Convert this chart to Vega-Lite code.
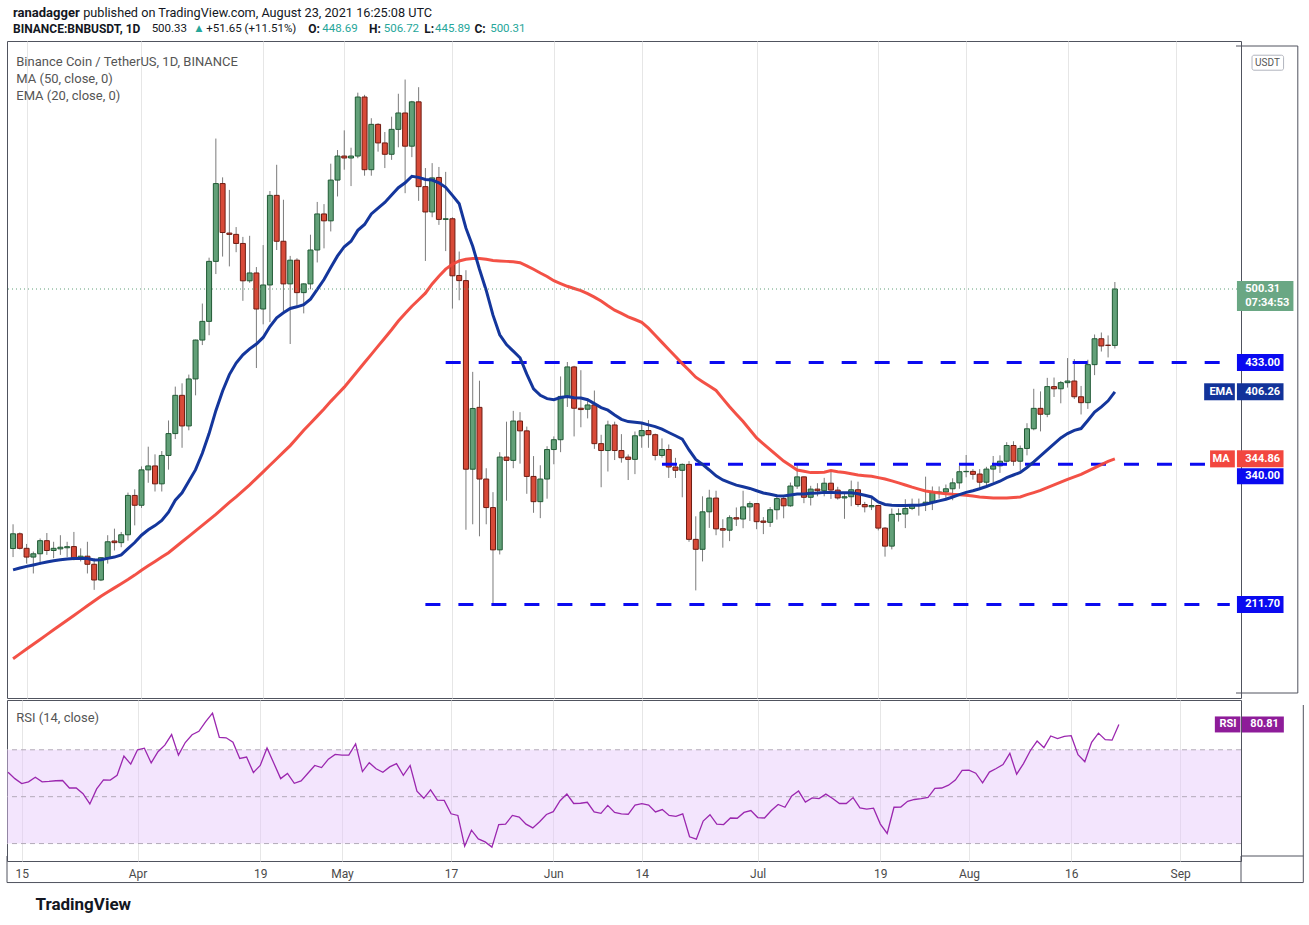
{
  "$schema": "https://vega.github.io/schema/vega-lite/v6.json",
  "background": "white",
  "padding": {"left": 6, "top": 6, "right": 0, "bottom": 0},
  "datasets": {
    "bnb": [
      {"d":"2021-03-13","o":262.8,"h":285,"l":255,"c":276.3,"ma":162,"ema":243.3,"rsi":60.4},
      {"d":"2021-03-14","o":276.3,"h":277.5,"l":262,"c":263,"ma":166.4,"ema":245,"rsi":57.7},
      {"d":"2021-03-15","o":263,"h":267,"l":249,"c":255,"ma":170.8,"ema":246.5,"rsi":55.6},
      {"d":"2021-03-16","o":255,"h":260,"l":240,"c":258,"ma":175.2,"ema":247.8,"rsi":56.3},
      {"d":"2021-03-17","o":258,"h":272,"l":248,"c":270,"ma":179.6,"ema":249.2,"rsi":58.3},
      {"d":"2021-03-18","o":270,"h":277,"l":257,"c":261,"ma":184,"ema":250.5,"rsi":56.3},
      {"d":"2021-03-19","o":261,"h":269,"l":254,"c":263,"ma":188.4,"ema":251.6,"rsi":56.5},
      {"d":"2021-03-20","o":262.5,"h":275,"l":257,"c":264,"ma":192.8,"ema":252.5,"rsi":56.8},
      {"d":"2021-03-21","o":263.5,"h":269,"l":255,"c":264.5,"ma":197.2,"ema":253.3,"rsi":56.9},
      {"d":"2021-03-22","o":264.6,"h":278,"l":252,"c":254.4,"ma":201.6,"ema":253.6,"rsi":53.7},
      {"d":"2021-03-23","o":254.2,"h":263,"l":251,"c":255.8,"ma":206,"ema":253.8,"rsi":53.7},
      {"d":"2021-03-24","o":255.8,"h":269,"l":240,"c":248.4,"ma":210.4,"ema":253.6,"rsi":51.3},
      {"d":"2021-03-25","o":248.4,"h":254,"l":225,"c":234,"ma":214.8,"ema":252.3,"rsi":46.9},
      {"d":"2021-03-26","o":234,"h":255,"l":233,"c":254.4,"ma":219.2,"ema":252.5,"rsi":53.3},
      {"d":"2021-03-27","o":254.4,"h":275,"l":249,"c":269,"ma":223,"ema":253.8,"rsi":57.2},
      {"d":"2021-03-28","o":269.7,"h":281,"l":261,"c":268.2,"ma":226.8,"ema":255,"rsi":57.1},
      {"d":"2021-03-29","o":268.2,"h":278,"l":264,"c":275.4,"ma":230.6,"ema":257,"rsi":59.1},
      {"d":"2021-03-30","o":275.4,"h":314,"l":270,"c":311.4,"ma":234.4,"ema":262.8,"rsi":67.3},
      {"d":"2021-03-31","o":311.4,"h":317,"l":284,"c":302.4,"ma":238.5,"ema":268.3,"rsi":63.9},
      {"d":"2021-04-01","o":302.4,"h":338,"l":300,"c":334.8,"ma":243,"ema":275,"rsi":70},
      {"d":"2021-04-02","o":334.8,"h":356,"l":323,"c":338.4,"ma":247,"ema":280,"rsi":70.7},
      {"d":"2021-04-03","o":338.4,"h":349,"l":315,"c":322,"ma":251,"ema":283.8,"rsi":64.4},
      {"d":"2021-04-04","o":322,"h":352,"l":315,"c":348,"ma":255,"ema":288.5,"rsi":69.2},
      {"d":"2021-04-05","o":348,"h":380,"l":335,"c":368,"ma":259,"ema":296,"rsi":72},
      {"d":"2021-04-06","o":368,"h":411,"l":363,"c":403,"ma":264,"ema":307,"rsi":76.5},
      {"d":"2021-04-07","o":403,"h":414,"l":355,"c":375,"ma":269,"ema":313.8,"rsi":67.7},
      {"d":"2021-04-08","o":375,"h":422,"l":371,"c":418,"ma":274,"ema":324.3,"rsi":73.1},
      {"d":"2021-04-09","o":418,"h":454,"l":403,"c":453.6,"ma":279,"ema":335,"rsi":76.4},
      {"d":"2021-04-10","o":453.6,"h":487,"l":449,"c":470.7,"ma":284,"ema":350,"rsi":77.9},
      {"d":"2021-04-11","o":470.7,"h":529,"l":458,"c":525.6,"ma":289,"ema":368,"rsi":82},
      {"d":"2021-04-12","o":525.6,"h":638,"l":514,"c":596.8,"ma":294,"ema":389,"rsi":85.6},
      {"d":"2021-04-13","o":596.8,"h":602.5,"l":530,"c":552,"ma":299.5,"ema":407,"rsi":75.3},
      {"d":"2021-04-14","o":551.5,"h":591,"l":521,"c":550.3,"ma":305,"ema":422,"rsi":75.1},
      {"d":"2021-04-15","o":550.3,"h":557,"l":534,"c":542,"ma":310,"ema":432.5,"rsi":73.2},
      {"d":"2021-04-16","o":542,"h":548,"l":489.5,"c":507.8,"ma":315.5,"ema":440,"rsi":66.3},
      {"d":"2021-04-17","o":507.8,"h":549,"l":506,"c":515,"ma":321,"ema":445.5,"rsi":66.9},
      {"d":"2021-04-18","o":515,"h":520.4,"l":428,"c":482,"ma":327,"ema":450,"rsi":60.3},
      {"d":"2021-04-19","o":482,"h":540.5,"l":468,"c":504,"ma":333,"ema":456,"rsi":63.3},
      {"d":"2021-04-20","o":504,"h":590,"l":470,"c":586,"ma":339,"ema":466,"rsi":70.8},
      {"d":"2021-04-21","o":586,"h":614,"l":536,"c":544,"ma":345,"ema":474,"rsi":64.3},
      {"d":"2021-04-22","o":544,"h":582,"l":480,"c":505,"ma":351,"ema":478.5,"rsi":57.7},
      {"d":"2021-04-23","o":505,"h":530.6,"l":450,"c":526.7,"ma":357,"ema":482.5,"rsi":59.9},
      {"d":"2021-04-24","o":526.7,"h":528.5,"l":483.5,"c":497,"ma":364,"ema":484,"rsi":55.7},
      {"d":"2021-04-25","o":497,"h":505.5,"l":478,"c":505,"ma":371,"ema":486,"rsi":56.7},
      {"d":"2021-04-26","o":505,"h":550,"l":500,"c":536,"ma":377.5,"ema":491,"rsi":60},
      {"d":"2021-04-27","o":536,"h":580,"l":524.6,"c":569,"ma":384,"ema":500,"rsi":63.3},
      {"d":"2021-04-28","o":569,"h":578,"l":537.5,"c":562.7,"ma":390.5,"ema":509,"rsi":62.4},
      {"d":"2021-04-29","o":562.7,"h":615,"l":553,"c":600,"ma":397.5,"ema":520,"rsi":66},
      {"d":"2021-04-30","o":600,"h":627.5,"l":585,"c":622,"ma":404,"ema":530.6,"rsi":68},
      {"d":"2021-05-01","o":622,"h":645.5,"l":609.5,"c":620.2,"ma":410.5,"ema":539,"rsi":67.7},
      {"d":"2021-05-02","o":620.2,"h":629.6,"l":594.5,"c":622,"ma":418,"ema":544,"rsi":67.7},
      {"d":"2021-05-03","o":622,"h":680,"l":620,"c":676,"ma":425.5,"ema":554,"rsi":72.5},
      {"d":"2021-05-04","o":676,"h":678,"l":604,"c":609.5,"ma":433,"ema":559.4,"rsi":60.7},
      {"d":"2021-05-05","o":609.5,"h":656.6,"l":604,"c":651,"ma":440.5,"ema":569,"rsi":64.5},
      {"d":"2021-05-06","o":651,"h":652,"l":626,"c":634,"ma":448,"ema":574.4,"rsi":61.9},
      {"d":"2021-05-07","o":634,"h":644,"l":611,"c":623.6,"ma":455.5,"ema":579.5,"rsi":60.4},
      {"d":"2021-05-08","o":623.6,"h":658,"l":618.5,"c":646.4,"ma":463,"ema":586.4,"rsi":62.7},
      {"d":"2021-05-09","o":646.4,"h":679,"l":630,"c":661.4,"ma":471,"ema":593,"rsi":64.1},
      {"d":"2021-05-10","o":661.4,"h":692,"l":588,"c":631,"ma":478,"ema":597.5,"rsi":59.1},
      {"d":"2021-05-11","o":631,"h":672.5,"l":621,"c":671.6,"ma":484.5,"ema":603.5,"rsi":63.3},
      {"d":"2021-05-12","o":671.6,"h":685,"l":581,"c":594,"ma":490.5,"ema":602.5,"rsi":52.3},
      {"d":"2021-05-13","o":594,"h":611,"l":526,"c":570.8,"ma":496.5,"ema":600.5,"rsi":49.3},
      {"d":"2021-05-14","o":570.8,"h":615.5,"l":566,"c":602,"ma":505,"ema":600,"rsi":52.9},
      {"d":"2021-05-15","o":602.4,"h":612,"l":559,"c":564,"ma":512,"ema":597.5,"rsi":48.5},
      {"d":"2021-05-16","o":564,"h":607.5,"l":535,"c":564.6,"ma":518.5,"ema":593.4,"rsi":48.4},
      {"d":"2021-05-17","o":564.6,"h":566,"l":482.4,"c":512.4,"ma":523,"ema":586,"rsi":42.7},
      {"d":"2021-05-18","o":512.7,"h":534.6,"l":490,"c":508,"ma":526,"ema":578.4,"rsi":42},
      {"d":"2021-05-19","o":508,"h":517.5,"l":280,"c":335.4,"ma":527.5,"ema":556,"rsi":28.9},
      {"d":"2021-05-20","o":335.4,"h":424.5,"l":285,"c":391,"ma":528.3,"ema":539.4,"rsi":35.7},
      {"d":"2021-05-21","o":392,"h":416.4,"l":274,"c":326.4,"ma":528.3,"ema":518.4,"rsi":32},
      {"d":"2021-05-22","o":326.4,"h":336.3,"l":285,"c":300.3,"ma":527.5,"ema":499,"rsi":30.7},
      {"d":"2021-05-23","o":300.3,"h":314.4,"l":211.7,"c":261.6,"ma":526.5,"ema":476.4,"rsi":28.5},
      {"d":"2021-05-24","o":261.6,"h":351,"l":257.4,"c":346.5,"ma":526,"ema":458.4,"rsi":38.1},
      {"d":"2021-05-25","o":346.5,"h":378.9,"l":306.6,"c":343.5,"ma":525.6,"ema":449.4,"rsi":38.3},
      {"d":"2021-05-26","o":343.5,"h":388.8,"l":336.3,"c":379.5,"ma":525.3,"ema":443.4,"rsi":42},
      {"d":"2021-05-27","o":379.5,"h":387.6,"l":340.5,"c":370.5,"ma":524.4,"ema":437.4,"rsi":41.3},
      {"d":"2021-05-28","o":370.5,"h":374.4,"l":312.9,"c":328.8,"ma":521.5,"ema":422.4,"rsi":38.3},
      {"d":"2021-05-29","o":328.8,"h":347.4,"l":295.5,"c":305.7,"ma":518.4,"ema":409,"rsi":36.7},
      {"d":"2021-05-30","o":305.7,"h":339,"l":290.6,"c":326.4,"ma":515,"ema":403,"rsi":39.3},
      {"d":"2021-05-31","o":326.4,"h":356.4,"l":308.4,"c":353.4,"ma":511.8,"ema":400,"rsi":42.4},
      {"d":"2021-06-01","o":353.4,"h":365.4,"l":339.9,"c":362.4,"ma":507.9,"ema":399,"rsi":43.6},
      {"d":"2021-06-02","o":362.4,"h":420.3,"l":351,"c":402,"ma":505.3,"ema":401,"rsi":48.3},
      {"d":"2021-06-03","o":402,"h":433.5,"l":392.4,"c":429,"ma":502.8,"ema":402,"rsi":51.1},
      {"d":"2021-06-04","o":429,"h":430,"l":365.4,"c":391.2,"ma":500.8,"ema":400.8,"rsi":47.1},
      {"d":"2021-06-05","o":391.2,"h":426,"l":373.8,"c":390,"ma":498.9,"ema":400.5,"rsi":47.2},
      {"d":"2021-06-06","o":390.3,"h":400.5,"l":381.9,"c":394.2,"ma":496,"ema":399,"rsi":47.6},
      {"d":"2021-06-07","o":394.2,"h":407.4,"l":354,"c":358.8,"ma":492.9,"ema":395.4,"rsi":43.5},
      {"d":"2021-06-08","o":358.8,"h":366.9,"l":318.9,"c":352.5,"ma":489.3,"ema":391.8,"rsi":42.9},
      {"d":"2021-06-09","o":352.5,"h":379.8,"l":333.3,"c":375.9,"ma":485,"ema":389.4,"rsi":46.3},
      {"d":"2021-06-10","o":375.9,"h":378.9,"l":343.8,"c":352.5,"ma":480.9,"ema":385,"rsi":43.3},
      {"d":"2021-06-11","o":352.5,"h":367.5,"l":341.4,"c":345.9,"ma":478,"ema":381,"rsi":42.7},
      {"d":"2021-06-12","o":346.5,"h":348.9,"l":325.5,"c":344.4,"ma":474.9,"ema":379,"rsi":42.5},
      {"d":"2021-06-13","o":344.4,"h":369.9,"l":330.9,"c":366,"ma":472.4,"ema":378.3,"rsi":46.4},
      {"d":"2021-06-14","o":366,"h":377.4,"l":355,"c":370.8,"ma":469.8,"ema":377.6,"rsi":47},
      {"d":"2021-06-15","o":370.8,"h":380.4,"l":355,"c":367,"ma":464.5,"ema":376,"rsi":46.4},
      {"d":"2021-06-16","o":367,"h":368,"l":343.5,"c":348,"ma":458,"ema":374.4,"rsi":43.5},
      {"d":"2021-06-17","o":348,"h":363.6,"l":346,"c":353.4,"ma":451.5,"ema":372,"rsi":44.5},
      {"d":"2021-06-18","o":353.4,"h":358,"l":327.4,"c":337.4,"ma":445,"ema":369,"rsi":42},
      {"d":"2021-06-19","o":337.4,"h":345.8,"l":327.4,"c":334.4,"ma":438.5,"ema":366,"rsi":41.6},
      {"d":"2021-06-20","o":334.4,"h":340.7,"l":309.7,"c":339.8,"ma":432,"ema":363,"rsi":42.7},
      {"d":"2021-06-21","o":339.8,"h":342.8,"l":269,"c":271.2,"ma":426,"ema":353,"rsi":32.9},
      {"d":"2021-06-22","o":271.2,"h":292.3,"l":224.5,"c":262.1,"ma":419.6,"ema":344.3,"rsi":31.9},
      {"d":"2021-06-23","o":262.1,"h":310.6,"l":251,"c":296.4,"ma":415.5,"ema":339.8,"rsi":39.6},
      {"d":"2021-06-24","o":296.4,"h":316.6,"l":281.7,"c":309,"ma":411.5,"ema":334.7,"rsi":42.3},
      {"d":"2021-06-25","o":309,"h":315.7,"l":275,"c":280.8,"ma":407.5,"ema":329.3,"rsi":38.3},
      {"d":"2021-06-26","o":281,"h":289.6,"l":263.6,"c":279.6,"ma":400,"ema":325.6,"rsi":38.1},
      {"d":"2021-06-27","o":279.6,"h":293.2,"l":269.6,"c":291,"ma":392.5,"ema":323.2,"rsi":40.9},
      {"d":"2021-06-28","o":291,"h":300.4,"l":283.4,"c":289.8,"ma":385.7,"ema":320.8,"rsi":40.8},
      {"d":"2021-06-29","o":289.8,"h":315.7,"l":281.4,"c":300.9,"ma":379,"ema":319.3,"rsi":43.3},
      {"d":"2021-06-30","o":300.9,"h":306,"l":288,"c":303.9,"ma":371.5,"ema":317.8,"rsi":44.1},
      {"d":"2021-07-01","o":303.9,"h":304.5,"l":280.5,"c":287.4,"ma":364,"ema":315.7,"rsi":41.1},
      {"d":"2021-07-02","o":288,"h":291.6,"l":276,"c":286.8,"ma":358.6,"ema":313.6,"rsi":40.9},
      {"d":"2021-07-03","o":286.8,"h":300.7,"l":282.6,"c":298.3,"ma":353.3,"ema":312.4,"rsi":44.1},
      {"d":"2021-07-04","o":298.3,"h":312.4,"l":289.3,"c":308.5,"ma":348,"ema":311.2,"rsi":46.7},
      {"d":"2021-07-05","o":308.5,"h":309.7,"l":290.5,"c":301.9,"ma":342.8,"ema":310.9,"rsi":45.5},
      {"d":"2021-07-06","o":301.9,"h":323.2,"l":301,"c":320,"ma":338.7,"ema":311.8,"rsi":50.3},
      {"d":"2021-07-07","o":320,"h":339.8,"l":317.4,"c":328.4,"ma":334.7,"ema":312.7,"rsi":52.4},
      {"d":"2021-07-08","o":328.4,"h":328.7,"l":304.3,"c":309.7,"ma":333.5,"ema":312.7,"rsi":47.7},
      {"d":"2021-07-09","o":309.7,"h":320.2,"l":302.2,"c":317.2,"ma":332.3,"ema":313.3,"rsi":49.5},
      {"d":"2021-07-10","o":317.2,"h":322.6,"l":310.6,"c":315.7,"ma":332.3,"ema":313.6,"rsi":49.2},
      {"d":"2021-07-11","o":315.7,"h":327.5,"l":310.6,"c":322.6,"ma":332.6,"ema":314.2,"rsi":51.1},
      {"d":"2021-07-12","o":322.6,"h":334.7,"l":308.2,"c":316.3,"ma":334.1,"ema":314.2,"rsi":49.2},
      {"d":"2021-07-13","o":316.3,"h":319.3,"l":307.6,"c":309.1,"ma":333.1,"ema":313.8,"rsi":47.1},
      {"d":"2021-07-14","o":309.1,"h":314.5,"l":290,"c":310.2,"ma":332.3,"ema":313.8,"rsi":47.1},
      {"d":"2021-07-15","o":310.2,"h":325,"l":301.6,"c":316.6,"ma":331.2,"ema":313.9,"rsi":49.6},
      {"d":"2021-07-16","o":316.6,"h":324,"l":301,"c":303.1,"ma":330.1,"ema":313,"rsi":45.2},
      {"d":"2021-07-17","o":303.1,"h":305.5,"l":295.9,"c":301,"ma":329.5,"ema":311.5,"rsi":44.7},
      {"d":"2021-07-18","o":301,"h":308.5,"l":298,"c":302.2,"ma":328.9,"ema":310,"rsi":45.1},
      {"d":"2021-07-19","o":302.2,"h":302.5,"l":279.4,"c":281.5,"ma":327.7,"ema":305.5,"rsi":38.3},
      {"d":"2021-07-20","o":281.5,"h":282.4,"l":255.4,"c":265,"ma":326.5,"ema":303.1,"rsi":34.3},
      {"d":"2021-07-21","o":265,"h":299.5,"l":262,"c":294.1,"ma":324.7,"ema":302.5,"rsi":45.5},
      {"d":"2021-07-22","o":294.1,"h":299.5,"l":287.5,"c":294.7,"ma":322.9,"ema":302.2,"rsi":45.6},
      {"d":"2021-07-23","o":294.4,"h":307.9,"l":281.5,"c":299.5,"ma":321,"ema":302.2,"rsi":48},
      {"d":"2021-07-24","o":299.5,"h":308.5,"l":298,"c":302.2,"ma":319,"ema":302.5,"rsi":48.8},
      {"d":"2021-07-25","o":302.2,"h":308.5,"l":292.9,"c":303.1,"ma":317.2,"ema":302.5,"rsi":49.2},
      {"d":"2021-07-26","o":303.1,"h":328.6,"l":297.1,"c":305.2,"ma":315.4,"ema":303.4,"rsi":49.7},
      {"d":"2021-07-27","o":305.2,"h":319.6,"l":298,"c":314.2,"ma":314.5,"ema":304.9,"rsi":53.5},
      {"d":"2021-07-28","o":314.2,"h":319.6,"l":308.5,"c":314.5,"ma":313.6,"ema":306.4,"rsi":53.7},
      {"d":"2021-07-29","o":314.5,"h":321.4,"l":309.1,"c":317.5,"ma":313,"ema":307.9,"rsi":54.9},
      {"d":"2021-07-30","o":317.5,"h":327.1,"l":307,"c":322.9,"ma":312.4,"ema":310,"rsi":57.1},
      {"d":"2021-07-31","o":322.9,"h":338.5,"l":317.5,"c":333.1,"ma":312,"ema":312.1,"rsi":61.2},
      {"d":"2021-08-01","o":333.1,"h":348.4,"l":328,"c":333.4,"ma":311.5,"ema":314.2,"rsi":61.3},
      {"d":"2021-08-02","o":333.4,"h":335.5,"l":325.9,"c":330.7,"ma":310.8,"ema":315.7,"rsi":60},
      {"d":"2021-08-03","o":331,"h":335.5,"l":317.5,"c":323.5,"ma":310,"ema":317.5,"rsi":55.9},
      {"d":"2021-08-04","o":323.5,"h":337.6,"l":320,"c":335.5,"ma":309.5,"ema":319.6,"rsi":60.5},
      {"d":"2021-08-05","o":335.5,"h":347.5,"l":323.5,"c":338.5,"ma":309.1,"ema":322,"rsi":62},
      {"d":"2021-08-06","o":338.5,"h":348.1,"l":332,"c":342.7,"ma":309.1,"ema":324.4,"rsi":63.7},
      {"d":"2021-08-07","o":342.7,"h":360.1,"l":341.5,"c":357.1,"ma":309.1,"ema":327.7,"rsi":68.5},
      {"d":"2021-08-08","o":357.1,"h":361,"l":338.5,"c":342.7,"ma":309.5,"ema":330.1,"rsi":59.6},
      {"d":"2021-08-09","o":342.7,"h":357.1,"l":334,"c":354.4,"ma":310,"ema":332.5,"rsi":64.1},
      {"d":"2021-08-10","o":354.4,"h":377.5,"l":348.1,"c":372.4,"ma":312.1,"ema":337,"rsi":69.6},
      {"d":"2021-08-11","o":372.4,"h":409,"l":371,"c":391.1,"ma":314,"ema":342.1,"rsi":73.7},
      {"d":"2021-08-12","o":391.1,"h":406.6,"l":370,"c":385.7,"ma":316,"ema":347.5,"rsi":70.9},
      {"d":"2021-08-13","o":385.7,"h":419,"l":383,"c":411,"ma":318.6,"ema":353,"rsi":75.9},
      {"d":"2021-08-14","o":411,"h":419.3,"l":401.5,"c":409,"ma":321,"ema":358.5,"rsi":74.8},
      {"d":"2021-08-15","o":409,"h":416.1,"l":395.7,"c":414.6,"ma":323.5,"ema":364,"rsi":75.7},
      {"d":"2021-08-16","o":414.6,"h":437.1,"l":410.1,"c":416.1,"ma":326.1,"ema":368,"rsi":76},
      {"d":"2021-08-17","o":416.1,"h":436.2,"l":399.6,"c":401.7,"ma":328.4,"ema":371,"rsi":67.9},
      {"d":"2021-08-18","o":401.7,"h":411.6,"l":385.5,"c":396.3,"ma":330.6,"ema":372.6,"rsi":64.9},
      {"d":"2021-08-19","o":396.3,"h":435.6,"l":390.6,"c":431.1,"ma":333.6,"ema":380,"rsi":73.2},
      {"d":"2021-08-20","o":431.1,"h":458.7,"l":421.5,"c":454.8,"ma":336.6,"ema":387.6,"rsi":77.1},
      {"d":"2021-08-21","o":454.8,"h":460.5,"l":443.1,"c":448.2,"ma":339.6,"ema":392.5,"rsi":74.3},
      {"d":"2021-08-22","o":448.9,"h":457.8,"l":437.7,"c":448.69,"ma":342.6,"ema":398,"rsi":74.1},
      {"d":"2021-08-23","o":448.69,"h":506.72,"l":445.89,"c":500.31,"ma":344.86,"ema":406.26,"rsi":80.81}
    ],
    "levels": [
      {"v": 433, "from": "2021-05-16", "to": "2021-09-09"},
      {"v": 340, "from": "2021-06-17", "to": "2021-09-09"},
      {"v": 211.7, "from": "2021-05-13", "to": "2021-09-09"}
    ],
    "tags": [
      {"s": "level", "n": "", "v": 433},
      {"s": "ema", "n": "EMA", "v": 406.26},
      {"s": "ma", "n": "MA", "v": 344.86},
      {"s": "level", "n": "", "v": 340},
      {"s": "level", "n": "", "v": 211.7}
    ],
    "one": [{}]
  },
  "spacing": 0,
  "vconcat": [
    {
      "width": 1234,
      "height": 657,
      "layer": [
        {
          "data": {"name": "bnb"},
          "mark": {"type": "rule", "color": "#7b7b7b", "strokeWidth": 1, "clip": true},
          "encoding": {
            "x": {
              "field": "d", "type": "temporal",
              "scale": {"type": "utc", "nice": false, "domain": [
                {"year": 2021, "month": 3, "date": 12, "hours": 20, "minutes": 14, "utc": true},
                {"year": 2021, "month": 9, "date": 9, "hours": 22, "minutes": 5, "utc": true}
              ]},
              "axis": {
                "labels": false, "ticks": false, "domain": false, "grid": true, "title": null,
                "minExtent": 0, "maxExtent": 0, "labelPadding": 0,
                "values": [
                  {"year": 2021, "month": 3, "date": 15, "utc": true},
                  {"year": 2021, "month": 4, "date": 1, "utc": true},
                  {"year": 2021, "month": 4, "date": 19, "utc": true},
                  {"year": 2021, "month": 5, "date": 1, "utc": true},
                  {"year": 2021, "month": 5, "date": 17, "utc": true},
                  {"year": 2021, "month": 6, "date": 1, "utc": true},
                  {"year": 2021, "month": 6, "date": 14, "utc": true},
                  {"year": 2021, "month": 7, "date": 1, "utc": true},
                  {"year": 2021, "month": 7, "date": 19, "utc": true},
                  {"year": 2021, "month": 8, "date": 1, "utc": true},
                  {"year": 2021, "month": 8, "date": 16, "utc": true},
                  {"year": 2021, "month": 9, "date": 1, "utc": true}
                ]
              }
            },
            "y": {
              "field": "l", "type": "quantitative",
              "scale": {"domain": [130.6, 722.7], "nice": false, "zero": false},
              "axis": {
                "orient": "right", "title": null, "format": ".2f", "grid": true,
                "values": [160, 200, 240, 280, 320, 360, 400, 440, 480, 520, 560, 600, 640, 680, 720],
                "ticks": true, "tickSize": 4, "tickColor": "#787b86", "labelPadding": 5
              }
            },
            "y2": {"field": "h"}
          }
        },
        {
          "data": {"name": "bnb"},
          "mark": {"type": "bar", "width": 5, "strokeWidth": 1, "clip": true},
          "encoding": {
            "x": {"field": "d", "type": "temporal"},
            "y": {"field": "o", "type": "quantitative", "axis": null},
            "y2": {"field": "c"},
            "fill": {"condition": {"test": "datum.c >= datum.o", "value": "#62a078"}, "value": "#d84a38"},
            "stroke": {"condition": {"test": "datum.c >= datum.o", "value": "#215a35"}, "value": "#6e1c12"}
          }
        },
        {
          "data": {"name": "levels"},
          "mark": {"type": "rule", "color": "#0a0af0", "strokeWidth": 3, "strokeDash": [15, 18]},
          "encoding": {
            "x": {"field": "from", "type": "temporal"},
            "x2": {"field": "to"},
            "y": {"field": "v", "type": "quantitative", "axis": null}
          }
        },
        {
          "data": {"name": "bnb"},
          "mark": {"type": "line", "color": "#f2483c", "strokeWidth": 3, "opacity": 0.95, "clip": true},
          "encoding": {
            "x": {"field": "d", "type": "temporal"},
            "y": {"field": "ma", "type": "quantitative", "axis": null}
          }
        },
        {
          "data": {"name": "bnb"},
          "mark": {"type": "line", "color": "#14369c", "strokeWidth": 3, "clip": true},
          "encoding": {
            "x": {"field": "d", "type": "temporal"},
            "y": {"field": "ema", "type": "quantitative", "axis": null}
          }
        },
        {
          "data": {"values": [{"p": 500.31}]},
          "mark": {"type": "rule", "color": "#5f9e79", "strokeWidth": 1, "strokeDash": [1, 3]},
          "encoding": {
            "y": {"field": "p", "type": "quantitative", "axis": null}
          }
        },
        {
          "data": {"values": [{"t": ["Binance Coin / TetherUS, 1D, BINANCE", "MA (50, close, 0)", "EMA (20, close, 0)"]}]},
          "mark": {"type": "text", "align": "left", "baseline": "top", "fontSize": 13, "lineHeight": 17, "color": "#555555", "font": "Roboto"},
          "encoding": {
            "x": {"datum": {"year": 2021, "month": 3, "date": 13, "hours": 11, "minutes": 24, "utc": true}, "type": "temporal"},
            "y": {"datum": 713.7, "type": "quantitative"},
            "text": {"field": "t"}
          }
        },
        {
          "data": {"name": "one"},
          "mark": {"type": "text", "align": "left", "baseline": "middle", "fontSize": 13, "fontWeight": "bold", "color": "#131722"},
          "encoding": {
            "x": {"datum": {"year": 2021, "month": 3, "date": 12, "hours": 23, "minutes": 50, "utc": true}, "type": "temporal"},
            "y": {"datum": 753.3, "type": "quantitative"},
            "text": {"value": "ranadagger"}
          }
        },
        {
          "data": {"name": "one"},
          "mark": {"type": "text", "align": "left", "baseline": "middle", "fontSize": 12.7, "color": "#131722"},
          "encoding": {
            "x": {"datum": {"year": 2021, "month": 3, "date": 23, "hours": 9, "utc": true}, "type": "temporal"},
            "y": {"datum": 753.3, "type": "quantitative"},
            "text": {"value": "published on TradingView.com, August 23, 2021 16:25:08 UTC"}
          }
        },
        {
          "data": {"name": "one"},
          "mark": {"type": "text", "align": "left", "baseline": "middle", "fontSize": 12, "fontWeight": "bold", "color": "#131722"},
          "encoding": {
            "x": {"datum": {"year": 2021, "month": 3, "date": 12, "hours": 23, "minutes": 50, "utc": true}, "type": "temporal"},
            "y": {"datum": 738, "type": "quantitative"},
            "text": {"value": "BINANCE:BNBUSDT, 1D"}
          }
        },
        {
          "data": {"name": "one"},
          "mark": {"type": "text", "align": "left", "baseline": "middle", "fontSize": 11.5, "color": "#131722"},
          "encoding": {
            "x": {"datum": {"year": 2021, "month": 4, "date": 2, "hours": 12, "utc": true}, "type": "temporal"},
            "y": {"datum": 738, "type": "quantitative"},
            "text": {"value": "500.33"}
          }
        },
        {
          "data": {"name": "one"},
          "mark": {"type": "text", "align": "left", "baseline": "middle", "fontSize": 11.5, "color": "#26a69a"},
          "encoding": {
            "x": {"datum": {"year": 2021, "month": 4, "date": 8, "hours": 16, "utc": true}, "type": "temporal"},
            "y": {"datum": 738, "type": "quantitative"},
            "text": {"value": "▲"}
          }
        },
        {
          "data": {"name": "one"},
          "mark": {"type": "text", "align": "left", "baseline": "middle", "fontSize": 11.5, "color": "#131722"},
          "encoding": {
            "x": {"datum": {"year": 2021, "month": 4, "date": 10, "hours": 14, "utc": true}, "type": "temporal"},
            "y": {"datum": 738, "type": "quantitative"},
            "text": {"value": "+51.65 (+11.51%)"}
          }
        },
        {
          "data": {"name": "one"},
          "mark": {"type": "text", "align": "left", "baseline": "middle", "fontSize": 12, "fontWeight": "bold", "color": "#131722"},
          "encoding": {
            "x": {"datum": {"year": 2021, "month": 4, "date": 25, "hours": 16, "utc": true}, "type": "temporal"},
            "y": {"datum": 738, "type": "quantitative"},
            "text": {"value": "O:"}
          }
        },
        {
          "data": {"name": "one"},
          "mark": {"type": "text", "align": "left", "baseline": "middle", "fontSize": 11.5, "color": "#26a69a"},
          "encoding": {
            "x": {"datum": {"year": 2021, "month": 4, "date": 27, "hours": 18, "utc": true}, "type": "temporal"},
            "y": {"datum": 738, "type": "quantitative"},
            "text": {"value": "448.69"}
          }
        },
        {
          "data": {"name": "one"},
          "mark": {"type": "text", "align": "left", "baseline": "middle", "fontSize": 12, "fontWeight": "bold", "color": "#131722"},
          "encoding": {
            "x": {"datum": {"year": 2021, "month": 5, "date": 4, "hours": 16, "utc": true}, "type": "temporal"},
            "y": {"datum": 738, "type": "quantitative"},
            "text": {"value": "H:"}
          }
        },
        {
          "data": {"name": "one"},
          "mark": {"type": "text", "align": "left", "baseline": "middle", "fontSize": 11.5, "color": "#26a69a"},
          "encoding": {
            "x": {"datum": {"year": 2021, "month": 5, "date": 6, "hours": 20, "utc": true}, "type": "temporal"},
            "y": {"datum": 738, "type": "quantitative"},
            "text": {"value": "506.72"}
          }
        },
        {
          "data": {"name": "one"},
          "mark": {"type": "text", "align": "left", "baseline": "middle", "fontSize": 12, "fontWeight": "bold", "color": "#131722"},
          "encoding": {
            "x": {"datum": {"year": 2021, "month": 5, "date": 12, "hours": 20, "utc": true}, "type": "temporal"},
            "y": {"datum": 738, "type": "quantitative"},
            "text": {"value": "L:"}
          }
        },
        {
          "data": {"name": "one"},
          "mark": {"type": "text", "align": "left", "baseline": "middle", "fontSize": 11.5, "color": "#26a69a"},
          "encoding": {
            "x": {"datum": {"year": 2021, "month": 5, "date": 14, "hours": 10, "utc": true}, "type": "temporal"},
            "y": {"datum": 738, "type": "quantitative"},
            "text": {"value": "445.89"}
          }
        },
        {
          "data": {"name": "one"},
          "mark": {"type": "text", "align": "left", "baseline": "middle", "fontSize": 12, "fontWeight": "bold", "color": "#131722"},
          "encoding": {
            "x": {"datum": {"year": 2021, "month": 5, "date": 20, "hours": 6, "utc": true}, "type": "temporal"},
            "y": {"datum": 738, "type": "quantitative"},
            "text": {"value": "C:"}
          }
        },
        {
          "data": {"name": "one"},
          "mark": {"type": "text", "align": "left", "baseline": "middle", "fontSize": 11.5, "color": "#26a69a"},
          "encoding": {
            "x": {"datum": {"year": 2021, "month": 5, "date": 22, "hours": 14, "utc": true}, "type": "temporal"},
            "y": {"datum": 738, "type": "quantitative"},
            "text": {"value": "500.31"}
          }
        },
        {
          "data": {"name": "one"},
          "mark": {"type": "bar", "height": 15, "fill": "white", "stroke": "#b2b5be", "cornerRadius": 2},
          "encoding": {
            "x": {"datum": {"year": 2021, "month": 9, "date": 12, "hours": 7, "utc": true}, "type": "temporal"},
            "x2": {"datum": {"year": 2021, "month": 9, "date": 16, "hours": 23, "utc": true}},
            "y": {"datum": 707.4, "type": "quantitative"}
          }
        },
        {
          "data": {"name": "one"},
          "mark": {"type": "text", "fontSize": 10, "color": "#555555", "baseline": "middle"},
          "encoding": {
            "x": {"datum": {"year": 2021, "month": 9, "date": 14, "hours": 14, "utc": true}, "type": "temporal"},
            "y": {"datum": 707.4, "type": "quantitative"},
            "text": {"value": "USDT"}
          }
        },
        {
          "data": {"name": "one"},
          "mark": {"type": "rule", "color": "#50535e", "strokeWidth": 1},
          "encoding": {
            "x": {"datum": {"year": 2021, "month": 9, "date": 19, "hours": 1, "minutes": 30, "utc": true}, "type": "temporal"},
            "y": {"datum": 130.6, "type": "quantitative"},
            "y2": {"datum": 722.7}
          }
        },
        {
          "data": {"values": [{"b": 130.6}, {"b": 722.7}]},
          "mark": {"type": "rule", "color": "#50535e", "strokeWidth": 1},
          "encoding": {
            "x": {"datum": {"year": 2021, "month": 9, "date": 9, "hours": 22, "minutes": 5, "utc": true}, "type": "temporal"},
            "x2": {"datum": {"year": 2021, "month": 9, "date": 19, "hours": 1, "minutes": 30, "utc": true}},
            "y": {"field": "b", "type": "quantitative"}
          }
        },
        {
          "data": {"name": "tags"},
          "transform": [{"filter": "datum.v != 340"}],
          "mark": {"type": "bar", "height": 17},
          "encoding": {
            "x": {"datum": {"year": 2021, "month": 9, "date": 10, "hours": 1, "minutes": 26, "utc": true}, "type": "temporal"},
            "x2": {"datum": {"year": 2021, "month": 9, "date": 16, "hours": 22, "minutes": 48, "utc": true}},
            "y": {"field": "v", "type": "quantitative"},
            "color": {"field": "s", "type": "nominal", "legend": null, "scale": {"domain": ["level", "ema", "ma"], "range": ["#0a0af0", "#12339a", "#f2473f"]}}
          }
        },
        {
          "data": {"name": "tags"},
          "transform": [{"filter": "datum.v == 340"}],
          "mark": {"type": "bar", "height": 16, "yOffset": 12},
          "encoding": {
            "x": {"datum": {"year": 2021, "month": 9, "date": 10, "hours": 1, "minutes": 26, "utc": true}, "type": "temporal"},
            "x2": {"datum": {"year": 2021, "month": 9, "date": 16, "hours": 22, "minutes": 48, "utc": true}},
            "y": {"field": "v", "type": "quantitative"},
            "color": {"field": "s", "type": "nominal", "legend": null}
          }
        },
        {
          "data": {"name": "tags"},
          "transform": [{"filter": "datum.v != 340"}],
          "mark": {"type": "text", "align": "left", "baseline": "middle", "fontSize": 11, "fontWeight": "bold", "color": "white"},
          "encoding": {
            "x": {"datum": {"year": 2021, "month": 9, "date": 11, "hours": 7, "utc": true}, "type": "temporal"},
            "y": {"field": "v", "type": "quantitative"},
            "text": {"field": "v", "format": ".2f"}
          }
        },
        {
          "data": {"name": "tags"},
          "transform": [{"filter": "datum.v == 340"}],
          "mark": {"type": "text", "align": "left", "baseline": "middle", "fontSize": 11, "fontWeight": "bold", "color": "white", "yOffset": 12},
          "encoding": {
            "x": {"datum": {"year": 2021, "month": 9, "date": 11, "hours": 7, "utc": true}, "type": "temporal"},
            "y": {"field": "v", "type": "quantitative"},
            "text": {"field": "v", "format": ".2f"}
          }
        },
        {
          "data": {"name": "tags"},
          "transform": [{"filter": "datum.s == 'ema'"}],
          "mark": {"type": "bar", "height": 17, "color": "#12339a"},
          "encoding": {
            "x": {"datum": {"year": 2021, "month": 9, "date": 5, "hours": 5, "utc": true}, "type": "temporal"},
            "x2": {"datum": {"year": 2021, "month": 9, "date": 9, "hours": 18, "utc": true}},
            "y": {"field": "v", "type": "quantitative"}
          }
        },
        {
          "data": {"name": "tags"},
          "transform": [{"filter": "datum.s == 'ma'"}],
          "mark": {"type": "bar", "height": 17, "color": "#f2473f"},
          "encoding": {
            "x": {"datum": {"year": 2021, "month": 9, "date": 6, "hours": 2, "utc": true}, "type": "temporal"},
            "x2": {"datum": {"year": 2021, "month": 9, "date": 9, "hours": 18, "utc": true}},
            "y": {"field": "v", "type": "quantitative"}
          }
        },
        {
          "data": {"name": "tags"},
          "transform": [{"filter": "datum.n != ''"}],
          "mark": {"type": "text", "baseline": "middle", "fontSize": 11, "fontWeight": "bold", "color": "white"},
          "encoding": {
            "x": {"datum": {"year": 2021, "month": 9, "date": 7, "hours": 17, "utc": true}, "type": "temporal"},
            "y": {"field": "v", "type": "quantitative"},
            "text": {"field": "n", "type": "nominal"}
          }
        },
        {
          "data": {"values": [{"p": 500.31, "t": "07:34:53"}]},
          "mark": {"type": "bar", "height": 30, "color": "#6aa784"},
          "encoding": {
            "x": {"datum": {"year": 2021, "month": 9, "date": 10, "hours": 1, "minutes": 26, "utc": true}, "type": "temporal"},
            "x2": {"datum": {"year": 2021, "month": 9, "date": 18, "hours": 10, "utc": true}},
            "y": {"datum": 493.8, "type": "quantitative"}
          }
        },
        {
          "data": {"values": [{"p": 500.31, "t": "07:34:53"}]},
          "mark": {"type": "text", "align": "left", "baseline": "middle", "fontSize": 11, "fontWeight": "bold", "color": "white"},
          "encoding": {
            "x": {"datum": {"year": 2021, "month": 9, "date": 11, "hours": 7, "utc": true}, "type": "temporal"},
            "y": {"field": "p", "type": "quantitative"},
            "text": {"field": "p", "format": ".2f"}
          }
        },
        {
          "data": {"values": [{"p": 500.31, "t": "07:34:53"}]},
          "mark": {"type": "text", "align": "left", "baseline": "middle", "fontSize": 11, "fontWeight": "bold", "color": "white"},
          "encoding": {
            "x": {"datum": {"year": 2021, "month": 9, "date": 11, "hours": 7, "utc": true}, "type": "temporal"},
            "y": {"datum": 487.5, "type": "quantitative"},
            "text": {"field": "t"}
          }
        }
      ]
    },
    {
      "width": 1234,
      "height": 161,
      "title": {"text": "TradingView", "orient": "bottom", "anchor": "start", "font": "Roboto", "fontSize": 17, "fontWeight": "bold", "color": "#131722", "dx": 29, "offset": 14},
      "layer": [
        {
          "data": {"values": [{"lo": 30, "hi": 70}]},
          "mark": {"type": "rect", "color": "#e4c6fb", "opacity": 0.45},
          "encoding": {
            "y": {"field": "lo", "type": "quantitative", "scale": {"domain": [24.7, 89.1], "nice": false, "zero": false},
              "axis": {"orient": "right", "title": null, "format": ".2f", "values": [40, 60, 80], "grid": true, "ticks": true, "tickSize": 4, "tickColor": "#787b86", "labelPadding": 5, "labelExpr": "datum.value == 80 ? '' : datum.label"}},
            "y2": {"field": "hi"}
          }
        },
        {
          "data": {"values": [{"r": 30}, {"r": 50}, {"r": 70}]},
          "mark": {"type": "rule", "color": "#b3aab9", "strokeWidth": 1, "strokeDash": [5, 4]},
          "encoding": {
            "y": {"field": "r", "type": "quantitative", "axis": null}
          }
        },
        {
          "data": {"name": "bnb"},
          "mark": {"type": "line", "color": "#9b27af", "strokeWidth": 1.3, "clip": true},
          "encoding": {
            "x": {
              "field": "d", "type": "temporal",
              "scale": {"type": "utc", "nice": false, "domain": [
                {"year": 2021, "month": 3, "date": 12, "hours": 20, "minutes": 14, "utc": true},
                {"year": 2021, "month": 9, "date": 9, "hours": 22, "minutes": 5, "utc": true}
              ]},
              "axis": {
                "title": null, "grid": true, "ticks": false, "domain": false, "labelFontSize": 12, "labelPadding": 7,
                "labelExpr": "utcdate(datum.value) == 1 ? utcFormat(datum.value, '%b') : utcFormat(datum.value, '%d')",
                "values": [
                  {"year": 2021, "month": 3, "date": 15, "utc": true},
                  {"year": 2021, "month": 4, "date": 1, "utc": true},
                  {"year": 2021, "month": 4, "date": 19, "utc": true},
                  {"year": 2021, "month": 5, "date": 1, "utc": true},
                  {"year": 2021, "month": 5, "date": 17, "utc": true},
                  {"year": 2021, "month": 6, "date": 1, "utc": true},
                  {"year": 2021, "month": 6, "date": 14, "utc": true},
                  {"year": 2021, "month": 7, "date": 1, "utc": true},
                  {"year": 2021, "month": 7, "date": 19, "utc": true},
                  {"year": 2021, "month": 8, "date": 1, "utc": true},
                  {"year": 2021, "month": 8, "date": 16, "utc": true},
                  {"year": 2021, "month": 9, "date": 1, "utc": true}
                ]
              }
            },
            "y": {"field": "rsi", "type": "quantitative", "axis": null}
          }
        },
        {
          "data": {"values": [{"t": "RSI (14, close)"}]},
          "mark": {"type": "text", "align": "left", "baseline": "middle", "fontSize": 13, "color": "#555555"},
          "encoding": {
            "x": {"datum": {"year": 2021, "month": 3, "date": 14, "hours": 5, "utc": true}, "type": "temporal"},
            "y": {"datum": 83.4, "type": "quantitative"},
            "text": {"field": "t"}
          }
        },
        {
          "data": {"values": [{"v": 80.81, "t": "RSI"}]},
          "mark": {"type": "bar", "height": 16, "color": "#8e1c99"},
          "encoding": {
            "x": {"datum": {"year": 2021, "month": 9, "date": 6, "hours": 2, "utc": true}, "type": "temporal"},
            "x2": {"datum": {"year": 2021, "month": 9, "date": 9, "hours": 20, "utc": true}},
            "y": {"field": "v", "type": "quantitative"}
          }
        },
        {
          "data": {"values": [{"v": 80.81, "t": "RSI"}]},
          "mark": {"type": "bar", "height": 16, "color": "#8e1c99"},
          "encoding": {
            "x": {"datum": {"year": 2021, "month": 9, "date": 10, "hours": 1, "minutes": 26, "utc": true}, "type": "temporal"},
            "x2": {"datum": {"year": 2021, "month": 9, "date": 16, "hours": 5, "utc": true}},
            "y": {"field": "v", "type": "quantitative"}
          }
        },
        {
          "data": {"values": [{"v": 80.81, "t": "RSI"}]},
          "mark": {"type": "text", "baseline": "middle", "fontSize": 11, "fontWeight": "bold", "color": "white"},
          "encoding": {
            "x": {"datum": {"year": 2021, "month": 9, "date": 8, "utc": true}, "type": "temporal"},
            "y": {"field": "v", "type": "quantitative"},
            "text": {"field": "t"}
          }
        },
        {
          "data": {"values": [{"v": 80.81, "t": "RSI"}]},
          "mark": {"type": "text", "align": "left", "baseline": "middle", "fontSize": 11, "fontWeight": "bold", "color": "white"},
          "encoding": {
            "x": {"datum": {"year": 2021, "month": 9, "date": 11, "hours": 7, "utc": true}, "type": "temporal"},
            "y": {"field": "v", "type": "quantitative"},
            "text": {"field": "v", "format": ".2f"}
          }
        },
        {
          "data": {"name": "one"},
          "mark": {"type": "rule", "color": "#50535e", "strokeWidth": 1},
          "encoding": {
            "x": {"datum": {"year": 2021, "month": 9, "date": 19, "hours": 1, "minutes": 30, "utc": true}, "type": "temporal"},
            "y": {"datum": 13.38, "type": "quantitative"},
            "y2": {"datum": 89.1}
          }
        },
        {
          "data": {"name": "one"},
          "mark": {"type": "rule", "color": "#50535e", "strokeWidth": 1},
          "encoding": {
            "x": {"datum": {"year": 2021, "month": 3, "date": 12, "hours": 20, "minutes": 14, "utc": true}, "type": "temporal"},
            "x2": {"datum": {"year": 2021, "month": 9, "date": 19, "hours": 1, "minutes": 30, "utc": true}},
            "y": {"datum": 13.38, "type": "quantitative"}
          }
        },
        {
          "data": {"name": "one"},
          "mark": {"type": "rule", "color": "#50535e", "strokeWidth": 1},
          "encoding": {
            "x": {"datum": {"year": 2021, "month": 9, "date": 9, "hours": 22, "minutes": 5, "utc": true}, "type": "temporal"},
            "x2": {"datum": {"year": 2021, "month": 9, "date": 19, "hours": 1, "minutes": 30, "utc": true}},
            "y": {"datum": 24.7, "type": "quantitative"}
          }
        },
        {
          "data": {"values": [{"e": "2021-03-12T20:14:00Z"}, {"e": "2021-09-09T22:05:00Z"}]},
          "mark": {"type": "rule", "color": "#50535e", "strokeWidth": 1},
          "encoding": {
            "x": {"field": "e", "type": "temporal"},
            "y": {"datum": 13.38, "type": "quantitative"},
            "y2": {"datum": 24.7}
          }
        }
      ]
    }
  ],
  "config": {
    "view": {"stroke": "#50535e", "strokeWidth": 1},
    "font": "Roboto",
    "axis": {"labelFont": "Roboto", "labelColor": "#4a4a4a", "labelFontSize": 11, "gridColor": "#e6e6e6", "gridWidth": 1},
    "text": {"font": "Roboto"}
  }
}
